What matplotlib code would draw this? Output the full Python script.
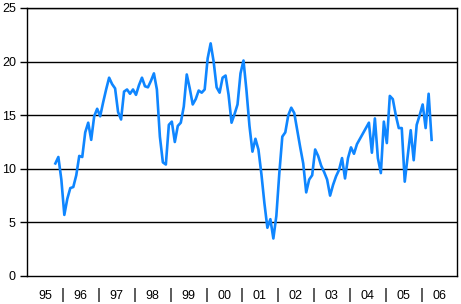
import numpy as np
import matplotlib
matplotlib.use("Agg")
import matplotlib.pyplot as plt

# Monthly series, first value is October 1995
start_year = 1995
start_month = 10
values = [
    10.5, 11.1, 9.0,
    5.7, 7.2, 8.2, 8.3, 9.4, 11.2, 11.1, 13.4, 14.3, 12.7, 14.9, 15.6,
    14.9, 16.2, 17.4, 18.5, 17.9, 17.5, 15.3, 14.6, 17.2, 17.4, 17.0, 17.4,
    16.9, 17.8, 18.5, 17.7, 17.6, 18.2, 18.9, 17.4, 13.0, 10.6, 10.4, 14.1,
    14.4, 12.5, 14.0, 14.3, 15.8, 18.8, 17.5, 16.0, 16.5, 17.3, 17.1, 17.4,
    20.3, 21.7, 20.0, 17.6, 17.1, 18.5, 18.7, 16.9, 14.3, 15.1, 16.0, 18.9,
    20.1, 17.3, 14.0, 11.6, 12.8, 11.8, 9.5, 6.8, 4.5, 5.3, 3.5, 5.6,
    9.6, 13.0, 13.4, 15.0, 15.7, 15.2, 13.6, 12.0, 10.5, 7.8, 9.0, 9.4,
    11.8, 11.2, 10.3, 9.7, 9.0, 7.5, 8.5, 9.3, 9.9, 11.0, 9.1, 11.0,
    12.0, 11.4, 12.3, 12.8, 13.3, 13.8, 14.3, 11.5, 14.7, 11.0, 9.6, 14.4,
    12.4, 16.8, 16.5, 15.0, 13.8, 13.8, 8.8, 11.2, 13.6, 10.8, 14.1, 15.0,
    16.0, 13.8, 17.0, 12.7,
]
years = ["95", "96", "97", "98", "99", "00", "01", "02", "03", "04", "05", "06"]
y_ticks = [0, 5, 10, 15, 20, 25]

# months counted from January 1995, points sit in the middle of each month
offset = (start_year - 1995) * 12 + (start_month - 1)
x = np.arange(len(values)) + offset + 0.5

plt.rcParams['font.family'] = ['Liberation Sans', 'DejaVu Sans']
fig = plt.figure(figsize=(4.61, 3.04), dpi=100)
ax = fig.add_axes([27 / 461, 28 / 304, 430 / 461, 268 / 304])

for t in y_ticks[1:]:
    ax.axhline(t, color="black", linewidth=1.0, zorder=1)
ax.plot(x, values, color="#0f86ff", linewidth=1.9, zorder=3)

ax.set_xlim(0, len(years) * 12)
ax.set_ylim(0, 25)

ax.set_yticks(y_ticks)
ax.tick_params(axis="y", direction="out", length=5, width=1, pad=3,
               labelsize=9, colors="black")

# year labels in the middle of each year, "|" between the years
ax.set_xticks(np.arange(len(years)) * 12 + 6)
ax.set_xticklabels(years)
ax.set_xticks(np.arange(1, len(years)) * 12, minor=True)
ax.set_xticklabels(["|"] * (len(years) - 1), minor=True)
ax.tick_params(axis="x", which="major", length=0, pad=10, labelsize=9)
ax.tick_params(axis="x", which="minor", length=0, pad=8.5, labelsize=11)

for s in ax.spines.values():
    s.set_color("black")
    s.set_linewidth(1.0)

fig.savefig("out.png", dpi=100)
